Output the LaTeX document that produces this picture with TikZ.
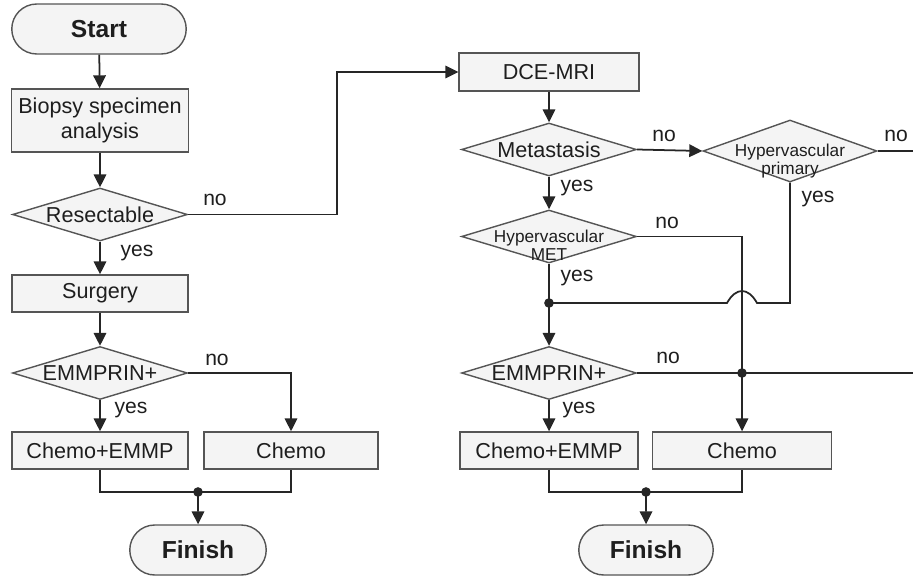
\documentclass[tikz,border=0pt]{standalone}
\usepackage{fontspec}
\setmainfont{Liberation Sans}
\usetikzlibrary{shapes,arrows.meta,positioning,calc}

\definecolor{boxgray}{HTML}{F4F4F4}
\definecolor{edgegray}{HTML}{555555}
\definecolor{inkgray}{HTML}{1E1E1E}

% diamond text: does not change the size of the diamond
\newcommand{\dlabel}[2][-4pt]{\smash{\makebox[0pt]{\raisebox{#1}{\begin{tabular}{@{}c@{}}#2\end{tabular}}}}}

\tikzset{
    procbox/.style={draw=edgegray, line width=0.8pt, fill=boxgray, text=inkgray,
        rectangle, inner sep=1pt, align=center, font=\fontsize{12.3}{14}\selectfont},
    termbox/.style={draw=edgegray, line width=0.8pt, fill=boxgray, text=inkgray,
        rounded rectangle, minimum height=1cm, inner sep=1pt,
        font=\fontsize{14}{16}\selectfont\bfseries},
    decision/.style={draw=edgegray, line width=0.8pt, fill=boxgray, text=inkgray,
        diamond, inner sep=0pt, minimum width=3.5cm, minimum height=1.06cm,
        font=\fontsize{12.3}{14}\selectfont},
    smalltext/.style={font=\fontsize{9.8}{10.5}\selectfont},
    lbl/.style={text=inkgray, inner sep=0pt, font=\fontsize{12}{13}\selectfont},
    link/.style={line width=1pt, draw=black!85},
    flow/.style={link, -{Triangle[length=2.6mm, width=2.5mm]}},
    joint/.style={fill=black!85, circle, inner sep=0pt, minimum size=5.5pt}
}

\begin{document}
                \begin{tikzpicture}[x=0.02cm, y=-0.02cm]
                    \useasboundingbox (0, 0) rectangle (913, 578);

                    % left chart
                    \node (startL) at (99, 29) [termbox, minimum width=3.56cm] {Start};
                    \node (biopsy) at (100, 120.5) [procbox, minimum width=3.54cm, minimum height=1.26cm]
                    {Biopsy specimen\\analysis};
                    \node (resect) at (100, 214.5) [decision] {\dlabel[-4.5pt]{Resectable}};
                    \node (surgery) at (100, 293.5) [procbox, minimum width=3.52cm, minimum height=0.74cm] {Surgery};
                    \node (emmL) at (100, 373) [decision] {\dlabel[-4.5pt]{EMMPRIN+}};
                    \node (chemoEL) at (100, 450.5) [procbox, minimum width=3.52cm, minimum height=0.74cm] {Chemo+EMMP};
                    \node (chemoL) at (291, 450.5) [procbox, minimum width=3.48cm, minimum height=0.74cm] {Chemo};
                    \node (finishL) at (198, 550) [termbox, minimum width=2.8cm] {Finish};

                    \coordinate (turnA) at (337, 214.5);
                    \coordinate (joinL) at (198, 492);

                    \draw[flow] (startL) -- (biopsy);
                    \draw[flow] (biopsy) -- (resect);
                    \draw[flow] (resect) -- (surgery);
                    \draw[flow] (surgery) -- (emmL);
                    \draw[flow] (emmL) -- (chemoEL);
                    \draw[flow] (emmL.east) -| (chemoL.north);
                    \draw[link] (chemoEL.south) |- (joinL) -| (chemoL.south);
                    \draw[flow] (joinL) -- (finishL);
                    \node at (joinL) [joint] {};

                    \node (noA) at (215, 200) [lbl] {no};
                    \node (yesA) at (137, 253) [lbl] {yes};
                    \node (noB) at (217, 360) [lbl] {no};
                    \node (yesB) at (131, 410) [lbl] {yes};

                    % right chart
                    \node (dce) at (549, 72) [procbox, minimum width=3.6cm, minimum height=0.76cm] {DCE-MRI};
                    \node (meta) at (549, 149.5) [decision] {\dlabel[-4.5pt]{Metastasis}};
                    \node (hprim) at (790, 151) [decision, smalltext, minimum width=3.48cm, minimum height=1.24cm]
                    {\dlabel[-8.5pt]{Hypervascular\\primary}};
                    \node (hmet) at (549, 236.5) [decision, smalltext]
                    {\dlabel[-9pt]{Hypervascular\\MET}};
                    \node (emmR) at (549, 373) [decision] {\dlabel[-4.5pt]{EMMPRIN+}};
                    \node (chemoER) at (549, 450.5) [procbox, minimum width=3.56cm, minimum height=0.74cm] {Chemo+EMMP};
                    \node (chemoR) at (742, 450.5) [procbox, minimum width=3.58cm, minimum height=0.74cm] {Chemo};
                    \node (finishR) at (646, 550) [termbox, minimum width=2.76cm] {Finish};

                    \coordinate (exitA) at (913, 151);
                    \coordinate (exitB) at (913, 373);
                    \coordinate (cross) at (742, 373);
                    \coordinate (dotR) at (549, 303);
                    \coordinate (joinR) at (646, 492);

                    \draw[flow] (resect.east) -- (turnA) |- (dce.west);
                    \draw[flow] (dce) -- (meta);
                    \draw[flow] (meta.east) -- (hprim.west);
                    \draw[link] (hprim.east) -- (exitA);
                    \draw[flow] (meta) -- (hmet);
                    \draw[link] (hmet.south) -- (dotR);
                    \draw[flow] (dotR) -- (emmR);
                    \draw[flow] (hmet.east) -| (chemoR.north);
                    \draw[link] (hprim.south) |- (757, 303)
                        .. controls (748, 287) and (736, 287) .. (727, 303) -- (dotR);
                    \draw[link] (emmR.east) -- (exitB);
                    \draw[flow] (emmR) -- (chemoER);
                    \draw[link] (chemoER.south) |- (joinR) -| (chemoR.south);
                    \draw[flow] (joinR) -- (finishR);
                    \foreach \j in {dotR, cross, joinR}
                    \node at (\j) [joint] {};

                    \node (noC) at (664, 136) [lbl] {no};
                    \node (noD) at (896, 136) [lbl] {no};
                    \node (yesC) at (818, 199) [lbl] {yes};
                    \node (yesD) at (577, 188) [lbl] {yes};
                    \node (noE) at (667, 223) [lbl] {no};
                    \node (yesE) at (577, 278) [lbl] {yes};
                    \node (noF) at (668, 358) [lbl] {no};
                    \node (yesF) at (579, 410) [lbl] {yes};
                \end{tikzpicture}
\end{document}
